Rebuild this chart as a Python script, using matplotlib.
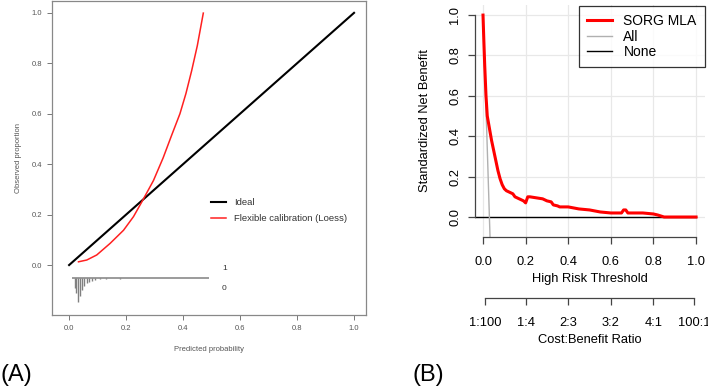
import matplotlib.pyplot as plt

plt.rcParams['font.family'] = ['Liberation Sans', 'DejaVu Sans']

# (A) calibration plot
ideal_x = [0.0, 1.0]
ideal_y = [0.0, 1.0]
loess_x = [0.033, 0.062, 0.097, 0.144, 0.191, 0.226, 0.255, 0.296, 0.330, 0.360,
           0.389, 0.410, 0.430, 0.450, 0.471]
loess_y = [0.013, 0.020, 0.040, 0.086, 0.138, 0.192, 0.250, 0.335, 0.425, 0.515,
           0.600, 0.680, 0.770, 0.870, 0.999]
spike_x = [0.019, 0.025, 0.03, 0.039, 0.046, 0.054, 0.062, 0.071, 0.08, 0.09, 0.109, 0.13, 0.18]
spike_len = [0.04, 0.059, 0.095, 0.071, 0.047, 0.032, 0.02, 0.016, 0.012, 0.008, 0.006, 0.006, 0.006]
calib_ticks = [0.0, 0.2, 0.4, 0.6, 0.8, 1.0]

# (B) decision curve
sorg_x = [0.0, 0.004, 0.008, 0.014, 0.02, 0.03, 0.04, 0.05, 0.06, 0.07, 0.08, 0.09, 0.10,
          0.11, 0.12, 0.14, 0.15, 0.16, 0.17, 0.18, 0.19, 0.20, 0.21, 0.22, 0.25, 0.28,
          0.30, 0.32, 0.33, 0.35, 0.36, 0.40, 0.45, 0.50, 0.55, 0.60, 0.65, 0.66, 0.67,
          0.68, 0.75, 0.80, 0.82, 0.85, 1.0]
sorg_y = [1.0, 0.87, 0.75, 0.6, 0.5, 0.44, 0.38, 0.33, 0.28, 0.23, 0.19, 0.16, 0.14,
          0.13, 0.125, 0.115, 0.10, 0.095, 0.09, 0.085, 0.08, 0.07, 0.10, 0.10, 0.095, 0.09,
          0.08, 0.075, 0.06, 0.055, 0.05, 0.05, 0.04, 0.035, 0.025, 0.02, 0.02, 0.035, 0.035,
          0.02, 0.02, 0.015, 0.01, 0.0, 0.0]
all_x = [0.0, 0.01, 0.02, 0.03, 0.036]
all_y = [1.0, 0.67, 0.34, 0.0, -0.2]
none_x = [-0.04, 1.0]
none_y = [0.0, 0.0]
thr_ticks = [0.0, 0.2, 0.4, 0.6, 0.8, 1.0]
cb_ticks = [1 / 101, 0.2, 0.4, 0.6, 0.8, 100 / 101]
cb_labels = ['1:100', '1:4', '2:3', '3:2', '4:1', '100:1']

fig = plt.figure(figsize=(7.08, 3.87), dpi=100)

# ---- left panel
ax = fig.add_axes([52 / 708, 72 / 387, 314 / 708, 314 / 387])
ax.plot(ideal_x, ideal_y, color='black', lw=1.5, label='Ideal')
ax.plot(loess_x, loess_y, color='#ff2020', lw=1.1, label='Flexible calibration (Loess)')
rug_y = -0.05
ax.hlines(rug_y, 0.01, 0.49, color='#808080', lw=1.1)
ax.vlines(spike_x, [rug_y - s for s in spike_len], rug_y, color='#808080', lw=1.0)
ax.text(0.537, -0.012, '1', fontsize=6, color='#333333', va='center')
ax.text(0.537, -0.091, '0', fontsize=6, color='#333333', va='center')
ax.set_xlim(-0.06, 1.042)
ax.set_ylim(-0.198, 1.047)
ax.set_xticks(calib_ticks)
ax.set_yticks(calib_ticks)
ax.set_xticklabels([f'{t:.1f}' for t in calib_ticks])
ax.set_yticklabels([f'{t:.1f}' for t in calib_ticks])
ax.tick_params(labelsize=5.5, labelcolor='#555555', color='#777777', length=3.5, width=0.7)
for s in ax.spines.values():
    s.set_color('#888888')
    s.set_linewidth(0.9)
ax.set_xlabel('Predicted probability', fontsize=5.5, color='#555555', labelpad=10)
ax.set_ylabel('Observed proportion', fontsize=5.5, color='#555555', labelpad=7)
ax.legend(loc='upper left', bbox_to_anchor=(0.48, 0.40), frameon=False, fontsize=6.8,
          handlelength=1.6, handletextpad=0.8, labelspacing=0.75, labelcolor='#333333')

# ---- right panel
bx = fig.add_axes([475 / 708, 150 / 387, 230 / 708, 232 / 387])
bx.set_xlim(-0.0376, 1.042)
bx.set_ylim(-0.099, 1.05)
for t in thr_ticks:
    bx.axvline(t, color='#e8e8e8', lw=0.9, zorder=0)
    bx.axhline(t, color='#e8e8e8', lw=0.9, zorder=0)
bx.plot(none_x, none_y, color='black', lw=1.0, label='None')
bx.plot(all_x, all_y, color='#b0b0b0', lw=1.0, label='All')
bx.plot(sorg_x, sorg_y, color='#ff0000', lw=2.2, label='SORG MLA')
handles, labels = bx.get_legend_handles_labels()
leg = bx.legend(handles[::-1], labels[::-1], loc='upper right', bbox_to_anchor=(1.0, 0.996),
                fontsize=10, frameon=True, fancybox=False, borderaxespad=0,
                handlelength=1.8, handletextpad=0.8, labelspacing=0.1, borderpad=0.6)
leg.get_frame().set_edgecolor('black')
leg.get_frame().set_linewidth(0.9)
for s in ['top', 'right']:
    bx.spines[s].set_visible(False)
bx.spines['left'].set_bounds(0, 1)
bx.spines['bottom'].set_bounds(0, 1)
for s in ['left', 'bottom']:
    bx.spines[s].set_color('#444444')
    bx.spines[s].set_linewidth(0.9)
bx.set_xticks(thr_ticks)
bx.set_yticks(thr_ticks)
bx.set_xticklabels([f'{t:.1f}' for t in thr_ticks])
bx.set_yticklabels([f'{t:.1f}' for t in thr_ticks], rotation=90, va='center')
bx.tick_params(axis='x', labelsize=9.3, length=5, width=0.9, color='#444444', pad=9)
bx.tick_params(axis='y', labelsize=9.3, length=5, width=0.9, color='#444444', pad=5)
bx.set_xlabel('High Risk Threshold', fontsize=9.3, labelpad=3)
bx.set_ylabel('Standardized Net Benefit', fontsize=9.3, labelpad=13)

sec = bx.secondary_xaxis(-61 / 232)
sec.set_xticks(cb_ticks)
sec.set_xticklabels(cb_labels)
sec.tick_params(labelsize=9.3, length=5, width=0.9, color='#444444', pad=9)
sec.spines['bottom'].set_bounds(cb_ticks[0], cb_ticks[-1])
sec.spines['bottom'].set_color('#444444')
sec.spines['bottom'].set_linewidth(0.9)
sec.set_xlabel('Cost:Benefit Ratio', fontsize=9.3, labelpad=3)

fig.text(0 / 708, 1 - 375 / 387, '(A)', fontsize=17, va='center', ha='left')
fig.text(412 / 708, 1 - 375 / 387, '(B)', fontsize=17, va='center', ha='left')

fig.savefig('out.png', dpi=100)
